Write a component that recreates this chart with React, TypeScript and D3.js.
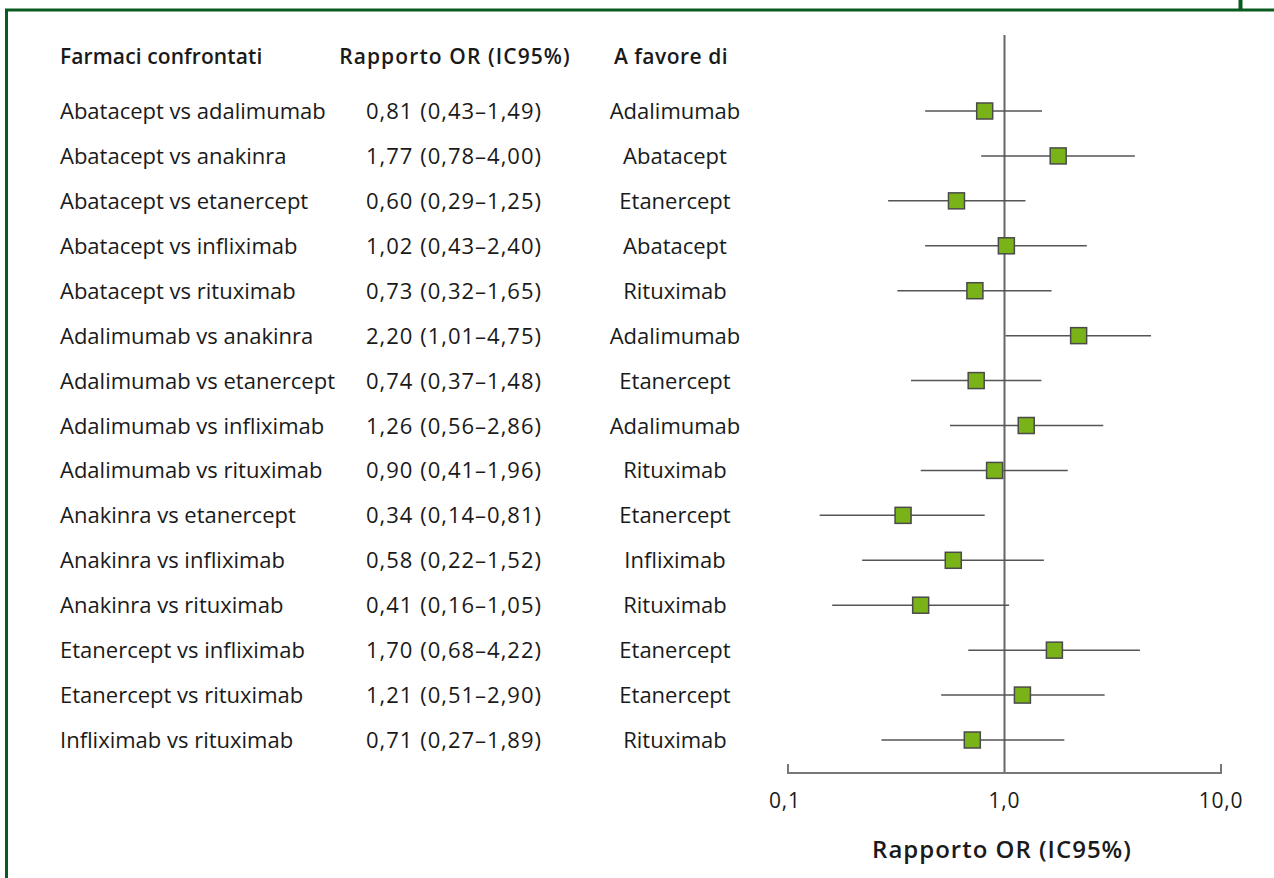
import React from "react";
import * as d3 from "d3";

const comparisons = [
  "Abatacept vs adalimumab",
  "Abatacept vs anakinra",
  "Abatacept vs etanercept",
  "Abatacept vs infliximab",
  "Abatacept vs rituximab",
  "Adalimumab vs anakinra",
  "Adalimumab vs etanercept",
  "Adalimumab vs infliximab",
  "Adalimumab vs rituximab",
  "Anakinra vs etanercept",
  "Anakinra vs infliximab",
  "Anakinra vs rituximab",
  "Etanercept vs infliximab",
  "Etanercept vs rituximab",
  "Infliximab vs rituximab",
];
const orValues = [0.81, 1.77, 0.6, 1.02, 0.73, 2.2, 0.74, 1.26, 0.9, 0.34, 0.58, 0.41, 1.7, 1.21, 0.71];
const ciLow = [0.43, 0.78, 0.29, 0.43, 0.32, 1.01, 0.37, 0.56, 0.41, 0.14, 0.22, 0.16, 0.68, 0.51, 0.27];
const ciHigh = [1.49, 4.0, 1.25, 2.4, 1.65, 4.75, 1.48, 2.86, 1.96, 0.81, 1.52, 1.05, 4.22, 2.9, 1.89];
const favours = [
  "Adalimumab", "Abatacept", "Etanercept", "Abatacept", "Rituximab",
  "Adalimumab", "Etanercept", "Adalimumab", "Rituximab", "Etanercept",
  "Infliximab", "Rituximab", "Etanercept", "Etanercept", "Rituximab",
];
const tickValues = [0.1, 1, 10];
const tickLabels = ["0,1", "1,0", "10,0"];
const headers = ["Farmaci confrontati", "Rapporto OR (IC95%)", "A favore di"];
const axisTitle = "Rapporto OR (IC95%)";

const fmt = (v: number) => v.toFixed(2).replace(".", ",");

export default function App() {
  const W = 1274, H = 878;
  const x = d3.scaleLog().domain([0.1, 10]).range([788, 1221]);
  const y = d3.scalePoint<number>().domain(d3.range(comparisons.length)).range([111, 740]);
  const font = "'Open Sans', sans-serif";
  const green = "#0b5a1f";
  const axisY = 773;
  const box = 16;
  return (
    <svg width={W} height={H} style={{ position: "absolute", left: 0, top: 0, background: "#fff" }}>
      {/* frame */}
      <line x1={6.5} y1={10} x2={6.5} y2={H} stroke={green} strokeWidth={3} />
      <line x1={5} y1={10} x2={W} y2={10} stroke={green} strokeWidth={3} />
      <line x1={1240.5} y1={0} x2={1240.5} y2={10} stroke={green} strokeWidth={4} />

      <g fontFamily={font} fill="#1a1a1a">
        <text x={60} y={64} fontSize={21} fontWeight={600} letterSpacing={0.1}>{headers[0]}</text>
        <text x={455} y={64} fontSize={21} fontWeight={600} letterSpacing={1.1} textAnchor="middle">{headers[1]}</text>
        <text x={671} y={64} fontSize={21} fontWeight={600} letterSpacing={0.5} textAnchor="middle">{headers[2]}</text>
        {comparisons.map((c, i) => (
          <g key={c}>
            <text x={60} y={y(i)! + 8} fontSize={22}>{c}</text>
            <text x={454} y={y(i)! + 8} fontSize={22} letterSpacing={1} textAnchor="middle">
              {`${fmt(orValues[i])} (${fmt(ciLow[i])}–${fmt(ciHigh[i])})`}
            </text>
            <text x={675} y={y(i)! + 8} fontSize={22} textAnchor="middle">{favours[i]}</text>
          </g>
        ))}
      </g>

      {/* reference line */}
      <line x1={x(1)} y1={35} x2={x(1)} y2={axisY} stroke="#666" strokeWidth={2} />

      {/* axis */}
      <path
        d={`M${x(0.1)},${axisY - 9}V${axisY}H${x(10)}V${axisY - 9}`}
        fill="none"
        stroke="#777"
        strokeWidth={2}
      />
      <g fontFamily={font} fill="#1a1a1a" textAnchor="middle">
        {tickValues.map((t, i) => (
          <text key={t} x={x(t) + (i === 0 ? -3 : 0)} y={808} fontSize={21} letterSpacing={0.8}>{tickLabels[i]}</text>
        ))}
        <text x={1002} y={858} fontWeight={600} fontSize={24} letterSpacing={1}>{axisTitle}</text>
      </g>

      {/* CI and markers */}
      {comparisons.map((c, i) => (
        <g key={c}>
          <line x1={x(ciLow[i])} x2={x(ciHigh[i])} y1={y(i)} y2={y(i)} stroke="#555" strokeWidth={1.5} />
          <rect
            x={x(orValues[i]) - box / 2}
            y={y(i)! - box / 2}
            width={box}
            height={box}
            fill="#7ab317"
            stroke="#4a4a4a"
            strokeWidth={1.5}
          />
        </g>
      ))}
    </svg>
  );
}
